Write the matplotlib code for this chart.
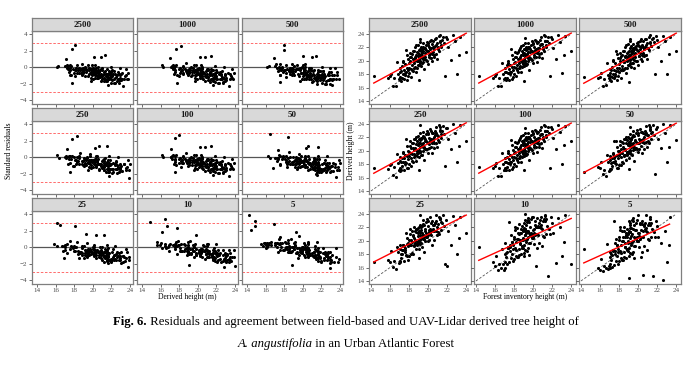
import numpy as np
import matplotlib.pyplot as plt

plt.rcParams['font.family'] = 'Liberation Serif'

W, H = 692, 365

def vals(s):
    return np.array(s.split(), dtype=float)

# pixel-scale (ggplot) resolutions, in facet order
resolutions = ['2500', '1000', '500', '250', '100', '50', '25', '10', '5']

# field (forest inventory) tree heights, m
field_h = vals("""
14.3 15.8 16.0 16.1 16.3 16.4 16.6 16.7 16.8 16.9
17.0 17.0 17.1 17.1 17.2 17.2 17.3 17.3 17.4 17.4
17.5 17.5 17.6 17.6 17.7 17.7 17.8 17.8 17.9 17.9
17.9 18.0 18.0 18.1 18.1 18.2 18.2 18.2 18.3 18.3
18.4 18.4 18.5 18.5 18.5 18.6 18.6 18.6 18.7 18.7
18.8 18.8 18.8 18.9 18.9 18.9 19.0 19.0 19.0 19.1
19.1 19.1 19.2 19.2 19.3 19.3 19.3 19.4 19.4 19.5
19.5 19.5 19.6 19.6 19.6 19.7 19.7 19.8 19.8 19.9
19.9 20.0 20.0 20.1 20.1 20.2 20.2 20.3 20.3 20.4
20.4 20.5 20.5 20.6 20.6 20.7 20.8 20.8 20.9 20.9
21.0 21.1 21.1 21.2 21.3 21.4 21.5 21.6 21.7 21.8
21.9 22.0 22.1 22.4 22.6 22.8 23.0 23.2 23.3 24.0
17.4 17.6 17.8 18.0 18.1 18.3 18.4 18.5 18.6 18.7
18.8 18.9 19.0 19.0 19.1 19.2 19.2 19.3 19.4 19.4
19.5 19.6 19.7 19.8 19.9 20.0 20.1 20.2 20.3 20.4
20.5 20.6 20.7 20.8 21.0 21.2 21.4 19.5 18.9 20.0
""")

# UAV-Lidar derived heights, m (nan = tree not detected)
d2500 = vals("""
17.8 17.5 17.7 18.1 16.2 17.4 16.3 19.8 18.0 17.3
18.3 17.6 18.9 17.2 18.5 17.0 19.2 17.5 18.1 20.0
17.3 18.7 19.5 17.9 21.6 18.4 17.2 19.0 20.3 18.6
17.7 19.6 18.2 21.2 19.9 18.8 20.6 17.6 19.3 21.0
18.5 20.2 19.7 21.5 18.9 20.4 19.1 22.0 20.8 18.3
19.9 21.3 20.1 19.4 22.4 20.7 17.1 21.0 20.3 21.8
19.6 20.9 23.3 20.0 21.5 19.2 22.1 20.6 21.1 19.8
22.6 21.4 20.2 21.9 18.8 21.2 20.5 22.3 21.6 20.0
22.8 21.4 19.5 22.1 20.8 21.7 23.0 20.4 21.9 22.5
19.9 21.3 22.9 21.8 20.6 22.2 23.4 21.0 22.6 20.3
22.0 23.7 21.5 22.8 23.8 22.3 23.1 23.5 22.7 17.8
23.6 23.2 22.0 20.1 23.8 22.9 18.1 20.9 23.6 21.3
19.8 18.2 20.9 19.0 20.5 18.7 21.4 19.9 20.6 22.3
19.0 21.2 21.6 19.3 20.4 22.8 19.8 20.9 21.7 19.6
22.0 20.7 21.9 20.1 21.5 22.4 20.6 21.2 23.1 21.0
22.0 20.9 23.2 22.4 21.8 22.9 22.1 20.3 20.0 22.7
""")
d1000 = vals("""
17.8 17.4 17.8 18.0 16.3 17.5 16.2 19.7 18.1 17.3
18.4 17.5 18.9 17.3 18.4 17.1 19.3 17.4 18.2 19.9
17.2 18.8 19.4 18.0 21.7 18.3 17.3 19.1 20.2 18.7
17.6 19.7 18.1 21.3 19.8 18.9 20.5 17.7 19.4 21.1
18.4 20.3 19.6 21.6 19.0 20.3 19.2 21.9 20.9 18.4
19.8 21.4 20.0 19.5 22.3 20.8 17.0 21.1 20.2 21.7
19.7 21.0 23.4 19.9 21.6 19.3 22.0 20.7 21.0 19.9
22.7 21.3 20.3 22.0 18.7 21.3 20.4 22.4 21.5 20.1
22.9 21.3 19.6 22.0 20.9 21.6 23.1 20.5 21.8 22.6
19.8 21.4 22.8 21.9 20.5 22.3 23.5 21.1 22.5 20.4
22.1 23.8 21.4 22.9 23.7 22.4 23.0 23.6 22.6 17.7
23.5 23.3 21.9 20.2 23.9 22.8 18.2 20.8 23.7 21.4
19.7 18.3 20.8 19.1 20.6 18.6 21.3 20.0 20.5 22.2
19.1 21.1 21.7 19.2 20.5 22.7 19.9 20.8 21.8 19.5
22.1 20.6 21.8 20.2 21.4 22.5 20.5 21.3 23.0 21.1
21.9 21.0 23.1 22.5 21.7 23.0 22.0 20.4 19.9 22.6
""")
d500 = vals("""
17.6 17.5 17.6 18.2 16.2 17.3 16.4 19.7 17.9 17.4
18.2 17.7 18.8 17.2 18.6 17.0 19.1 17.6 18.0 20.1
17.4 18.6 19.6 17.8 21.5 18.5 17.1 19.0 20.4 18.5
17.8 19.5 18.3 21.1 20.0 18.7 20.7 17.5 19.2 20.9
18.6 20.1 19.8 21.4 18.8 20.5 19.0 22.1 20.7 18.2
20.0 21.2 20.2 19.3 22.5 20.6 16.9 20.9 20.4 21.9
19.5 20.8 23.2 20.1 21.4 19.1 22.2 20.5 21.2 19.7
22.5 21.5 20.1 21.8 18.9 21.1 20.6 22.2 21.7 19.9
22.7 21.5 19.4 22.2 20.7 21.8 22.9 20.3 22.0 22.4
20.0 21.2 23.0 21.7 20.7 22.1 23.3 20.9 22.7 20.2
21.9 23.6 21.6 22.7 23.9 22.2 23.2 23.4 22.8 18.0
23.7 23.1 22.1 20.0 23.7 23.0 18.0 21.0 23.5 21.4
19.9 18.1 21.0 18.9 20.4 18.8 21.5 19.8 20.7 22.4
18.9 21.3 21.5 19.4 20.3 22.9 19.7 21.0 21.6 19.7
21.9 20.8 22.0 20.0 21.6 22.3 20.7 21.1 23.2 20.9
22.1 20.8 23.3 22.3 21.9 22.8 22.2 20.2 20.1 22.8
""")
d250 = vals("""
17.5 17.3 17.9 18.0 16.4 17.6 16.1 19.5 18.2 17.1
18.5 17.4 19.1 17.0 18.3 17.2 19.0 17.7 18.3 19.8
17.1 18.9 19.3 18.1 21.8 18.2 17.4 19.2 20.0 18.8
17.5 19.8 18.0 21.4 19.7 19.0 20.4 17.8 19.5 21.2
18.3 20.4 19.5 21.7 19.1 20.2 19.3 21.8 21.0 18.5
19.7 21.5 19.9 19.6 22.2 20.9 17.2 21.2 20.1 21.6
19.8 21.1 23.9 19.8 21.7 19.4 21.9 20.8 20.9 20.0
22.8 21.2 20.4 22.1 18.6 21.4 20.3 22.5 21.4 20.2
23.0 21.2 19.7 21.9 21.0 21.5 23.2 20.6 21.7 22.7
19.7 21.5 22.7 22.0 20.4 22.4 23.6 21.2 22.4 20.5
22.2 23.9 21.3 23.0 23.6 22.5 22.9 23.7 22.5 17.8
23.4 23.4 21.8 20.3 24.0 22.7 18.3 20.7 23.8 21.5
19.6 18.4 20.7 19.2 20.7 18.5 21.2 20.1 20.4 22.1
19.2 21.0 21.8 19.1 20.6 22.6 20.0 20.7 21.9 19.4
22.2 20.5 21.7 20.3 21.3 22.6 20.4 21.4 22.9 21.2
21.8 21.1 23.0 22.6 21.6 23.1 21.9 20.5 19.8 22.5
""")
d100 = vals("""
17.6 17.4 17.7 18.2 16.3 17.5 16.2 19.6 18.0 17.2
18.3 17.5 19.0 17.1 18.4 17.1 19.1 17.6 18.2 19.9
17.2 18.8 19.4 18.0 21.6 18.3 17.3 19.1 20.1 18.7
17.6 19.7 18.1 21.3 19.8 18.9 20.5 17.7 19.4 21.1
18.4 20.3 19.6 21.6 19.0 20.3 19.2 21.9 20.9 18.4
19.8 21.4 20.0 19.5 22.3 20.8 17.1 21.1 20.2 21.7
19.7 21.0 23.4 19.9 21.6 19.3 22.0 20.7 21.0 19.9
22.7 21.3 20.3 22.0 18.7 21.3 20.4 22.4 21.5 20.1
22.9 21.3 19.6 22.0 20.9 21.6 23.1 20.5 21.8 22.6
19.8 21.4 22.8 21.9 20.5 22.3 23.5 21.1 22.5 20.4
22.1 23.8 21.4 22.9 23.7 22.4 23.0 23.6 22.6 17.5
23.5 23.3 21.9 20.2 23.9 22.8 18.0 20.8 23.7 21.4
19.7 18.3 20.8 19.1 20.6 18.6 21.3 20.0 20.5 22.2
19.1 21.1 21.6 19.2 20.5 22.7 19.9 20.8 21.8 19.5
22.1 20.6 21.8 20.2 21.4 22.5 20.5 21.3 23.0 21.1
21.9 21.0 23.1 22.5 21.7 23.0 22.0 20.4 19.9 22.6
""")
d50 = vals("""
16.8 17.6 17.5 18.3 16.5 17.2 16.3 19.4 18.3 17.0
18.6 17.3 19.2 17.2 18.2 17.3 18.9 17.8 18.4 19.7
21.5 19.0 19.2 18.2 21.4 18.1 17.5 19.3 19.9 18.9
17.4 19.9 17.9 21.5 19.6 19.1 20.3 17.9 19.6 21.3
18.2 20.5 19.4 21.8 19.2 20.1 19.4 21.7 21.1 18.6
19.6 21.6 19.8 19.7 22.1 21.0 17.3 21.3 20.0 21.5
19.9 21.2 23.6 19.7 21.8 19.5 21.8 20.9 20.8 20.1
22.9 21.1 20.5 22.2 18.5 21.5 20.2 22.6 21.3 20.3
23.1 21.1 19.8 21.8 21.1 21.4 23.3 20.7 21.6 22.8
19.6 21.6 22.6 22.1 20.3 22.5 23.7 21.3 22.3 20.6
22.3 23.9 21.2 23.1 23.5 22.6 22.8 23.8 22.4 16.5
23.3 23.5 21.7 20.4 24.0 22.6 18.4 20.6 23.9 21.6
19.5 18.5 20.6 19.3 20.8 18.4 21.1 20.2 20.3 22.0
19.3 20.9 21.9 19.0 20.7 22.5 20.1 20.6 22.0 19.3
22.3 20.4 21.6 20.4 21.2 22.7 20.3 21.5 22.8 21.3
21.7 21.2 22.9 22.7 21.5 23.2 21.8 20.6 19.7 22.4
""")
d25 = vals("""
16.9 17.2 16.8 18.5 16.1 17.0 15.8 19.1 18.4 16.7
18.8 17.0 19.4 16.9 18.0 17.5 18.6 18.1 18.6 19.4
17.0 19.2 18.9 18.4 21.2 17.9 17.8 19.5 19.6 19.2
17.2 20.1 17.7 21.7 19.4 19.3 20.1 18.1 19.8 21.5
18.0 20.7 19.2 22.0 19.4 19.9 19.6 21.5 21.3 18.8
19.4 21.8 19.6 19.9 21.9 21.2 17.5 21.5 19.8 21.3
20.1 21.4 23.8 19.5 22.0 19.7 21.6 21.1 20.6 20.3
23.1 20.9 20.7 22.4 18.3 21.7 20.0 22.8 21.1 20.5
23.3 20.9 20.0 21.6 21.3 21.2 23.5 20.9 21.4 23.0
19.4 21.8 22.4 22.3 20.1 22.7 23.9 21.5 22.1 20.8
22.5 23.6 21.0 23.3 23.3 22.8 22.6 23.9 22.2 16.5
23.1 16.2 21.5 19.3 23.7 22.4 18.1 20.4 23.6 21.2
19.4 18.7 20.4 19.5 21.0 18.2 20.9 20.4 20.1 21.8
19.5 20.7 22.1 18.8 20.9 22.3 20.3 20.4 22.2 19.1
22.5 20.2 21.4 20.6 21.0 22.9 20.1 21.7 22.6 21.5
21.5 21.4 22.7 22.9 21.3 23.4 21.6 20.8 19.5 22.2
""")
d10 = vals("""
19.1 16.9 16.2 17.8 15.6 16.6 15.9 18.8 16.5 15.6
18.1 16.8 19.6 16.0 17.6 18.2 18.3 16.5 19.0 19.1
22.8 16.9 18.5 19.1 20.8 17.5 18.1 19.8 19.3 17.0
18.8 20.5 17.3 22.1 19.0 17.8 19.8 18.6 20.3 21.9
17.6 21.1 18.8 22.5 17.9 19.6 20.1 21.1 21.7 18.0
19.0 22.2 19.2 20.4 21.5 21.6 17.7 21.9 19.4 20.9
24.0 21.8 23.1 18.6 22.4 20.1 21.2 21.5 20.2 18.9
23.4 20.5 21.1 22.8 17.9 22.1 19.6 23.2 20.7 21.0
23.6 20.5 20.4 21.2 21.7 20.8 23.0 16.2 21.0 23.4
18.9 22.2 22.0 22.7 19.7 23.1 22.4 21.9 21.7 19.2
22.9 23.2 20.6 23.7 22.9 23.2 22.2 14.8 21.8 21.0
23.5 22.7 21.1 16.7 23.4 22.0 17.8 19.8 23.9 16.5
18.9 19.3 19.8 20.2 21.6 17.6 20.3 21.0 19.5 21.2
20.1 20.1 22.7 18.2 21.5 21.7 20.9 19.8 22.8 18.5
23.1 19.6 20.8 21.2 20.4 23.5 19.5 22.3 22.0 22.1
20.9 22.0 22.1 23.5 20.7 23.9 21.0 21.4 18.9 21.6
""")
d5 = vals("""
18.8 16.0 15.7 17.3 15.5 16.2 16.0 19.5 15.8 16.3
17.6 15.9 18.4 16.6 17.2 18.0 17.9 16.1 18.6 18.7
22.9 16.4 18.1 18.5 20.3 17.0 17.7 19.3 18.8 16.6
18.3 20.1 17.0 21.6 18.5 17.4 19.4 18.2 19.9 21.4
17.2 20.6 18.3 22.0 17.6 19.1 19.7 20.6 21.2 17.5
18.6 21.7 18.8 19.9 21.0 21.1 14.4 21.4 19.0 20.4
22.3 21.3 22.6 18.2 21.9 19.6 20.7 21.0 19.8 18.4
22.9 20.0 20.6 22.3 17.4 21.6 19.2 22.7 20.2 20.5
23.1 20.0 19.9 20.7 21.2 20.3 22.5 17.6 20.6 22.9
18.4 14.9 21.5 22.2 19.2 22.6 21.9 21.4 21.3 18.7
22.4 22.7 20.1 23.2 22.4 22.7 21.7 14.8 21.3 20.6
23.0 22.2 20.6 19.6 14.2 21.5 16.9 19.3 23.6 nan
18.5 19.6 19.4 20.6 22.0 17.2 19.9 21.4 19.1 20.8
20.5 19.7 23.0 17.8 21.9 21.3 21.3 19.4 23.1 18.1
23.4 19.2 20.4 21.6 20.0 23.8 19.1 22.7 21.6 22.5
20.5 22.4 21.7 23.9 20.3 23.6 20.6 21.8 18.5 21.2
""")

derived = {'2500': d2500, '1000': d1000, '500': d500, '250': d250, '100': d100,
           '50': d50, '25': d25, '10': d10, '5': d5}

fig = plt.figure(figsize=(W / 100, H / 100), dpi=100)

def px_axes(x0, x1, top, bottom):
    return fig.add_axes([x0 / W, 1 - bottom / H, (x1 - x0) / W, (bottom - top) / H])

left_cols = [(32, 133), (137, 238), (242, 343)]
right_cols = [(369, 471), (474, 576), (579, 681)]
strip_tops = [18, 108, 198]
strip_h, panel_h = 13, 73

border = '#7F7F7F'
tick_col = '#4D4D4D'

def style(ax, row, col, xlim, ylim, xticks, yticks):
    ax.set_xlim(*xlim)
    ax.set_ylim(*ylim)
    ax.set_xticks(xticks)
    ax.set_yticks(yticks)
    for s in ax.spines.values():
        s.set_color(border)
        s.set_linewidth(0.9)
    ax.tick_params(length=2, width=0.5, color='#333333', labelsize=5,
                   labelcolor=tick_col, pad=1.2)
    if row != 2:
        ax.tick_params(labelbottom=False)
    if col != 0:
        ax.tick_params(labelleft=False)

def strip(x0, x1, top, label):
    sa = px_axes(x0, x1, top, top + strip_h)
    sa.set_facecolor('#D9D9D9')
    sa.set_xticks([])
    sa.set_yticks([])
    for s in sa.spines.values():
        s.set_color(border)
        s.set_linewidth(0.9)
    sa.text(0.5, 0.45, label, ha='center', va='center', fontsize=6.5,
            fontweight='bold', color='#1A1A1A', transform=sa.transAxes)

xt = [14, 16, 18, 20, 22, 24]
for i, res in enumerate(resolutions):
    row, col = divmod(i, 3)
    d = derived[res]
    ok = ~np.isnan(d)
    f = field_h[ok]
    dd = d[ok]
    top = strip_tops[row] + strip_h

    # residuals panel
    diff = f - dd
    resid = diff / np.sqrt(np.mean(diff ** 2))
    x0, x1 = left_cols[col]
    ax = px_axes(x0, x1, top, top + panel_h)
    ax.axhline(0, color='#555555', lw=0.9)
    ax.axhline(3, color='#FF5555', lw=0.6, ls=(0, (3, 2)))
    ax.axhline(-3, color='#FF5555', lw=0.6, ls=(0, (3, 2)))
    ax.scatter(dd, resid, s=5, color='black', linewidths=0, zorder=3)
    style(ax, row, col, (13.45, 24.35), (-4.45, 4.4), xt, [-4, -2, 0, 2, 4])
    strip(x0, x1, strip_tops[row], res)

    # agreement panel
    x0, x1 = right_cols[col]
    ax = px_axes(x0, x1, top, top + panel_h)
    ax.plot([14, 24], [14, 24], color='#555555', lw=0.6, ls=(0, (3, 2)))
    slope, icpt = np.polyfit(f, dd, 1)
    xs = np.array([f.min(), f.max()])
    ax.plot(xs, icpt + slope * xs, color='red', lw=1.0, zorder=4)
    ax.scatter(f, dd, s=5, color='black', linewidths=0, zorder=3)
    style(ax, row, col, (13.8, 24.5), (13.55, 24.45), xt, [14, 16, 18, 20, 22, 24])
    strip(x0, x1, strip_tops[row], res)

fig.text(9 / W, 1 - 151 / H, 'Standard residuals', rotation=90, ha='center',
         va='center', fontsize=5.5)
fig.text(187 / W, 1 - 297 / H, 'Derived height (m)', ha='center', va='center',
         fontsize=5.5)
fig.text(351 / W, 1 - 151 / H, 'Derived height (m)', rotation=90, ha='center',
         va='center', fontsize=5.5)
fig.text(525 / W, 1 - 297 / H, 'Forest inventory height (m)', ha='center',
         va='center', fontsize=5.5)

# caption with mixed bold / italic pieces
renderer = fig.canvas.get_renderer()

def caption_line(pieces, y_px, size=9.2):
    texts = []
    for s, weight, style_ in pieces:
        t = fig.text(0, 1 - y_px / H, s, fontsize=size, fontweight=weight,
                     fontstyle=style_, va='center', ha='left')
        texts.append(t)
    widths = [t.get_window_extent(renderer).width for t in texts]
    x = W / 2 - sum(widths) / 2
    for t, w in zip(texts, widths):
        t.set_x(x / W)
        x += w

caption_line([('Fig. 6.', 'bold', 'normal'),
              (' Residuals and agreement between field-based and UAV-Lidar derived tree height of',
               'normal', 'normal')], 322)
caption_line([('A. angustifolia', 'normal', 'italic'),
              (' in an Urban Atlantic Forest', 'normal', 'normal')], 344)

fig.savefig('out.png', dpi=100)
